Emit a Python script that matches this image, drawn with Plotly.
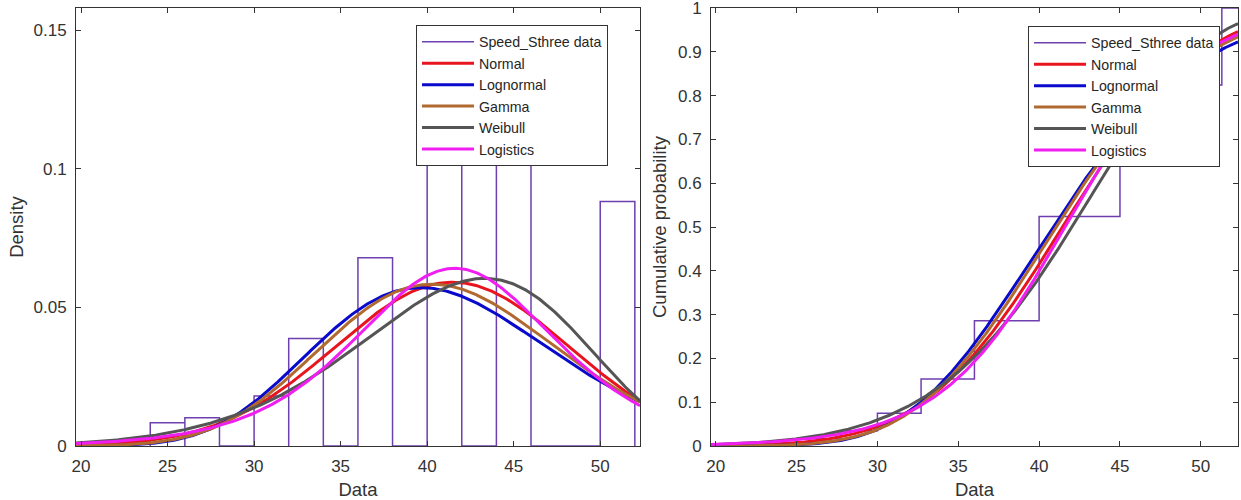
import math
import numpy as np
import plotly.graph_objects as go

# Speed_Sthree histogram (density scaled, bin width 2)
bin_edges = [24, 26, 28, 30, 32, 34, 36, 38, 40, 42, 44, 46, 48, 50, 52]
bin_density = [0.0084, 0.0102, 0.0, 0.018, 0.0388, 0.0, 0.0679, 0.0, 0.119, 0.0,
               0.150, 0.0, 0.0, 0.0882]

# Empirical CDF of Speed_Sthree
ecdf_x = [25.0, 27.7, 30.0, 32.7, 36.0, 40.0, 45.0, 51.3]
ecdf_p = [0.017, 0.035, 0.075, 0.153, 0.286, 0.524, 0.824, 1.0]

# Fitted distribution parameters
normal_mu, normal_sigma = 41.45, 6.75
lognormal_mu, lognormal_sigma = 3.7097, 0.1736
gamma_k, gamma_theta = 35.9, 1.154
weibull_scale, weibull_shape = 44.23, 7.2
logistic_mu, logistic_s = 41.6, 3.9

x_range = [19.71, 52.3]
x_ticks = [20, 25, 30, 35, 40, 45, 50]
density_ticks = [0, 0.05, 0.1, 0.15]
density_labels = ["0", "0.05", "0.1", "0.15"]
cdf_ticks = [0, 0.1, 0.2, 0.3, 0.4, 0.5, 0.6, 0.7, 0.8, 0.9, 1.0]
cdf_labels = ["0", "0.1", "0.2", "0.3", "0.4", "0.5", "0.6", "0.7", "0.8", "0.9", "1"]

series_names = ["Normal", "Lognormal", "Gamma", "Weibull", "Logistics"]
series_colors = ["#E8141E", "#0A0ACC", "#B06A30", "#555555", "#F01EF0"]
data_color = "#6E3FAF"


def gamma_cdf_scalar(x, k, theta):
    z = x / theta
    if z <= 0:
        return 0.0
    term = 1.0 / k
    total = term
    n = 1
    while n < 2000:
        term *= z / (k + n)
        total += term
        if term < total * 1e-14:
            break
        n += 1
    return math.exp(k * math.log(z) - z - math.lgamma(k)) * total


xs = np.linspace(x_range[0], x_range[1], 400)
erf = np.vectorize(math.erf)

pdfs = {
    "Normal": np.exp(-0.5 * ((xs - normal_mu) / normal_sigma) ** 2) / (normal_sigma * math.sqrt(2 * math.pi)),
    "Lognormal": np.exp(-0.5 * ((np.log(xs) - lognormal_mu) / lognormal_sigma) ** 2)
    / (xs * lognormal_sigma * math.sqrt(2 * math.pi)),
    "Gamma": np.exp((gamma_k - 1) * np.log(xs) - xs / gamma_theta - math.lgamma(gamma_k) - gamma_k * math.log(gamma_theta)),
    "Weibull": (weibull_shape / weibull_scale) * (xs / weibull_scale) ** (weibull_shape - 1)
    * np.exp(-(xs / weibull_scale) ** weibull_shape),
    "Logistics": np.exp(-(xs - logistic_mu) / logistic_s)
    / (logistic_s * (1 + np.exp(-(xs - logistic_mu) / logistic_s)) ** 2),
}
cdfs = {
    "Normal": 0.5 * (1 + erf((xs - normal_mu) / (normal_sigma * math.sqrt(2)))),
    "Lognormal": 0.5 * (1 + erf((np.log(xs) - lognormal_mu) / (lognormal_sigma * math.sqrt(2)))),
    "Gamma": np.array([gamma_cdf_scalar(v, gamma_k, gamma_theta) for v in xs]),
    "Weibull": 1 - np.exp(-(xs / weibull_scale) ** weibull_shape),
    "Logistics": 1 / (1 + np.exp(-(xs - logistic_mu) / logistic_s)),
}

# Outline of the histogram bars
hist_x, hist_y = [], []
for i, h in enumerate(bin_density):
    left, right = bin_edges[i], bin_edges[i + 1]
    hist_x += [left, left, right, right]
    hist_y += [0, h, h, 0]

# Empirical CDF as a staircase
stair_x = [ecdf_x[0]] + ecdf_x + [x_range[1]]
stair_y = [0] + ecdf_p + [ecdf_p[-1]]

fig = go.Figure()

fig.add_trace(go.Scatter(x=hist_x, y=hist_y, mode="lines", name="Speed_Sthree data",
                         line=dict(color=data_color, width=1.5), xaxis="x", yaxis="y",
                         legend="legend"))
for name, color in zip(series_names, series_colors):
    fig.add_trace(go.Scatter(x=xs, y=pdfs[name], mode="lines", name=name,
                             line=dict(color=color, width=3), xaxis="x", yaxis="y",
                             legend="legend"))

fig.add_trace(go.Scatter(x=stair_x, y=stair_y, mode="lines", name="Speed_Sthree data",
                         line=dict(color=data_color, width=1.5, shape="hv"),
                         xaxis="x2", yaxis="y2", legend="legend2"))
for name, color in zip(series_names, series_colors):
    fig.add_trace(go.Scatter(x=xs, y=cdfs[name], mode="lines", name=name,
                             line=dict(color=color, width=3), xaxis="x2", yaxis="y2",
                             legend="legend2"))

font_family = "Arial, Liberation Sans, sans-serif"
text_color = "#333333"
axis_color = "#333333"

base_axis = dict(
    ticks="inside", ticklen=5, tickcolor=axis_color, tickwidth=1,
    showline=True, linecolor=axis_color, linewidth=1, mirror="ticks",
    showgrid=False, zeroline=False, automargin=False,
    tickfont=dict(family=font_family, size=17, color=text_color),
    ticklabelstandoff=5, ticklabeloverflow="allow",
)

xaxis_common = dict(base_axis, range=x_range, tickvals=x_ticks,
                    title=dict(text="Data", font=dict(family=font_family, size=18.5, color=text_color),
                               standoff=8))

legend_common = dict(
    xanchor="left", yanchor="top", bgcolor="white", bordercolor=axis_color, borderwidth=1,
    font=dict(family=font_family, size=14.2, color="#262626"), itemwidth=52, tracegroupgap=0,
)

fig.update_layout(
    width=1241, height=500,
    margin=dict(l=76, r=3, t=8, b=54),
    paper_bgcolor="white", plot_bgcolor="white",
    font=dict(family=font_family, color=text_color),
    xaxis=dict(xaxis_common, domain=[0, 0.4854], anchor="y"),
    yaxis=dict(base_axis, domain=[0, 1], anchor="x", range=[0, 0.158],
               tickvals=density_ticks, ticktext=density_labels,
               title=dict(text="Density", font=dict(family=font_family, size=18.5, color=text_color),
                          standoff=5)),
    xaxis2=dict(xaxis_common, domain=[0.5465, 1.0], anchor="y2"),
    yaxis2=dict(base_axis, domain=[0, 1], anchor="x2", range=[0, 1],
                tickvals=cdf_ticks, ticktext=cdf_labels,
                title=dict(text="Cumulative probability",
                           font=dict(family=font_family, size=18.5, color=text_color), standoff=6)),
    legend=dict(legend_common, x=0.2926, y=0.9612, entrywidth=200, entrywidthmode="pixels"),
    legend2=dict(legend_common, x=0.8193, y=0.9589),
    showlegend=True,
)

fig.write_html("out.html")
